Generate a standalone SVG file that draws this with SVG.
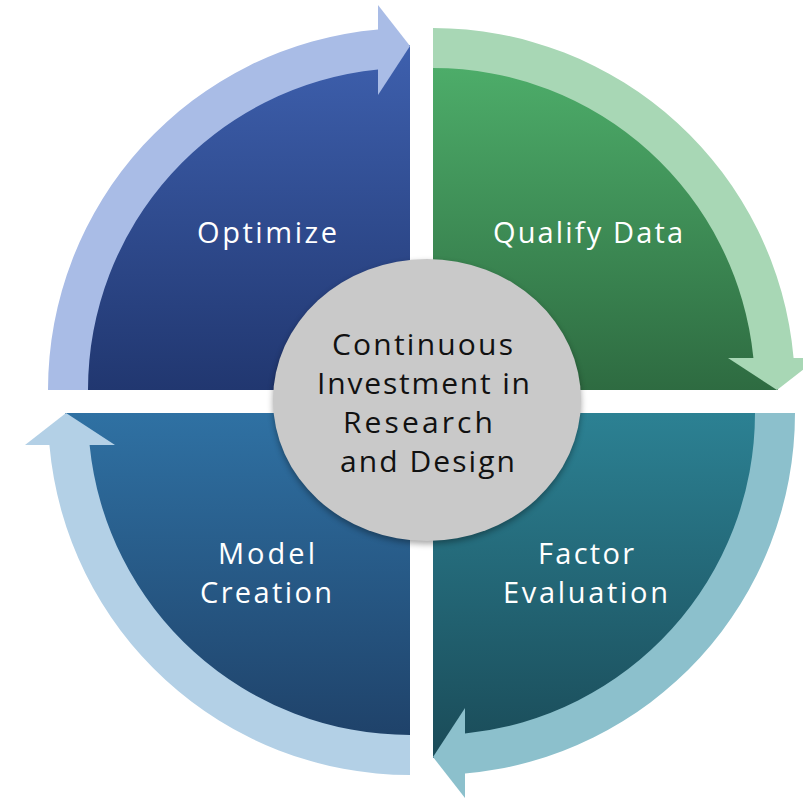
<svg xmlns="http://www.w3.org/2000/svg" width="803" height="799" viewBox="0 0 803 799">
  <defs>
    <linearGradient id="g1" x1="0" y1="0" x2="0" y2="1">
      <stop offset="0" stop-color="#3E60AE"/>
      <stop offset="1" stop-color="#213770"/>
    </linearGradient>
    <linearGradient id="g2" x1="0" y1="0" x2="0" y2="1">
      <stop offset="0" stop-color="#4FB16C"/>
      <stop offset="1" stop-color="#2E6B41"/>
    </linearGradient>
    <linearGradient id="g3" x1="0" y1="0" x2="0" y2="1">
      <stop offset="0" stop-color="#2C8193"/>
      <stop offset="1" stop-color="#1A4B58"/>
    </linearGradient>
    <linearGradient id="g4" x1="0" y1="0" x2="0" y2="1">
      <stop offset="0" stop-color="#2F71A3"/>
      <stop offset="1" stop-color="#1E3F66"/>
    </linearGradient>
    <filter id="sh" x="-20%" y="-20%" width="140%" height="140%">
      <feGaussianBlur stdDeviation="3"/>
    </filter>
    <g id="arrow">
      <path d="M-362,0 A362,362 0 0 1 -32,-360.6 L-32,-320.4 A322,322 0 0 0 -322,0 Z"/>
      <polygon points="-32,-385 0,-344 -32,-295"/>
    </g>
  </defs>
  <style>
    .lbl { font-family: "Open Sans", "Liberation Sans", Arial, sans-serif; font-size: 29px; fill: #FFFFFF; }
    .ctr { font-family: "Open Sans", "Liberation Sans", Arial, sans-serif; font-size: 30px; fill: #111111; }
  </style>
  <rect width="803" height="799" fill="#FFFFFF"/>

  <g id="optimize">
    <path d="M410,390 L65,390 A345,345 0 0 1 410,45 Z" fill="url(#g1)"/>
    <text class="lbl" x="197" y="243" textLength="140" lengthAdjust="spacing">Optimize</text>
  </g>
  <g id="qualify-data">
    <path d="M433,390 L433,45 A345,345 0 0 1 778,390 Z" fill="url(#g2)"/>
    <text class="lbl" x="493" y="243" textLength="190" lengthAdjust="spacing">Qualify Data</text>
  </g>
  <g id="factor-evaluation">
    <path d="M433,413 L778,413 A345,345 0 0 1 433,758 Z" fill="url(#g3)"/>
    <text class="lbl" x="538" y="564" textLength="96" lengthAdjust="spacing">Factor</text>
    <text class="lbl" x="503" y="603" textLength="165" lengthAdjust="spacing">Evaluation</text>
  </g>
  <g id="model-creation">
    <path d="M410,413 L410,758 A345,345 0 0 1 65,413 Z" fill="url(#g4)"/>
    <text class="lbl" x="218" y="564" textLength="97" lengthAdjust="spacing">Model</text>
    <text class="lbl" x="200" y="603" textLength="132" lengthAdjust="spacing">Creation</text>
  </g>

  <g id="connectors">
    <use href="#arrow" transform="translate(410,390)" fill="#A9BCE6"/>
    <use href="#arrow" transform="translate(433,390) rotate(90)" fill="#A8D7B5"/>
    <use href="#arrow" transform="translate(433,413) rotate(180)" fill="#8CC0CC"/>
    <use href="#arrow" transform="translate(410,413) rotate(270)" fill="#B3D0E6"/>
  </g>

  <g id="center">
    <ellipse cx="427" cy="403" rx="154" ry="141" fill="#000000" opacity="0.35" filter="url(#sh)"/>
    <ellipse cx="427" cy="400" rx="154" ry="141" fill="#C9C9C9"/>
    <text class="ctr" x="332" y="355" textLength="181" lengthAdjust="spacing">Continuous</text>
    <text class="ctr" x="317" y="394" textLength="213" lengthAdjust="spacing">Investment in</text>
    <text class="ctr" x="343" y="433" textLength="150" lengthAdjust="spacing">Research</text>
    <text class="ctr" x="340" y="472" textLength="175" lengthAdjust="spacing">and Design</text>
  </g>
</svg>
